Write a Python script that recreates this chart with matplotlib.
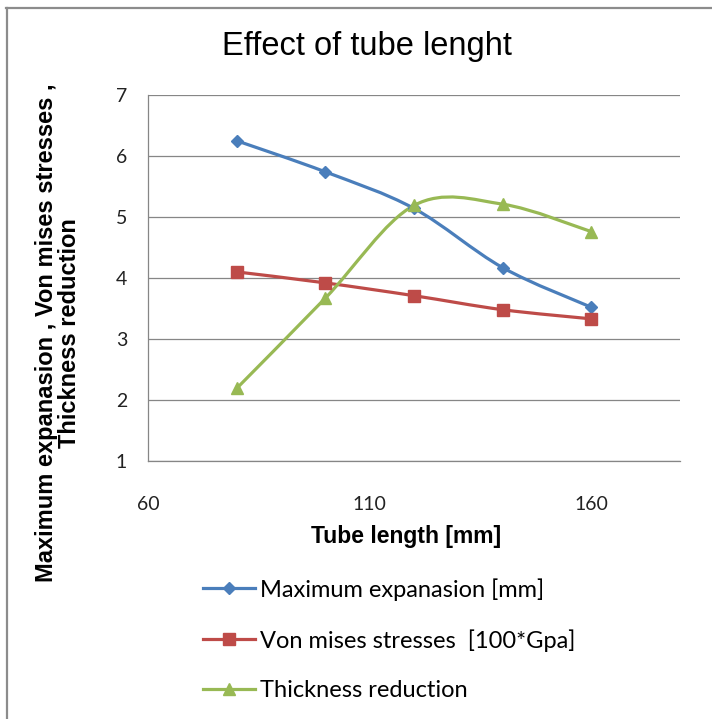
import matplotlib.pyplot as plt
from matplotlib.path import Path
from matplotlib.patches import PathPatch
from matplotlib.lines import Line2D

# Datos
tube_length = [80, 100, 120, 140, 160]
max_expansion = [6.25, 5.74, 5.14, 4.17, 3.52]
von_mises = [4.10, 3.92, 3.71, 3.48, 3.33]
thickness_red = [2.19, 3.67, 5.19, 5.21, 4.76]

labels = ['Maximum expanasion [mm]', 'Von mises stresses  [100*Gpa]', 'Thickness reduction']
colors = ['#4A7EBB', '#BE4B48', '#98B954']
markers = ['D', 's', '^']
msizes = [6, 9, 9]


def smooth_path(x, y):
    # curva suavizada tipo Excel (Bezier por los puntos)
    pts = list(zip(x, y))
    n = len(pts)
    verts = [pts[0]]
    codes = [Path.MOVETO]
    for i in range(n - 1):
        p0 = pts[max(i - 1, 0)]
        p1 = pts[i]
        p2 = pts[i + 1]
        p3 = pts[min(i + 2, n - 1)]
        c1 = (p1[0] + (p2[0] - p0[0]) / 6, p1[1] + (p2[1] - p0[1]) / 6)
        c2 = (p2[0] - (p3[0] - p1[0]) / 6, p2[1] - (p3[1] - p1[1]) / 6)
        verts += [c1, c2, p2]
        codes += [Path.CURVE4] * 3
    return Path(verts, codes)


fig = plt.figure(figsize=(7.12, 7.19), dpi=100)
ax = fig.add_axes([148 / 712, 1 - 461 / 719, 532 / 712, 366 / 719])

series = [max_expansion, von_mises, thickness_red]
handles = []
for ys, lab, c, m, ms in zip(series, labels, colors, markers, msizes):
    ax.add_patch(PathPatch(smooth_path(tube_length, ys), facecolor='none',
                           edgecolor=c, lw=2.3, capstyle='round', zorder=3))
    ax.plot(tube_length, ys, linestyle='none', marker=m, ms=ms, color=c, zorder=4)
    handles.append(Line2D([], [], color=c, lw=2.3, marker=m, ms=ms, label=lab))

ax.set_xlim(60, 180)
ax.set_ylim(1, 7)
ax.set_xticks([60, 110, 160])
ax.set_yticks(range(1, 8))
ax.yaxis.grid(True, color='#868686', lw=0.9)
ax.set_axisbelow(True)
for s in ['top', 'right']:
    ax.spines[s].set_visible(False)
for s in ['left', 'bottom']:
    ax.spines[s].set_color('#868686')
    ax.spines[s].set_linewidth(0.9)
ax.tick_params(axis='y', length=0, pad=15, labelsize=14)
ax.tick_params(axis='x', length=0, pad=25, labelsize=14)
for t in ax.get_xticklabels() + ax.get_yticklabels():
    t.set_fontfamily('Lato')
    t.set_color('#222222')

# Textos
fig.text(367 / 712, 1 - 55 / 719, 'Effect of tube lenght', ha='center', va='baseline',
         fontsize=23.5, family='Liberation Sans')
fig.text(406 / 712, 1 - 537 / 719, 'Tube length [mm]', ha='center', va='center',
         fontsize=16.5, fontweight='bold', family='Liberation Sans')
fig.text(58 / 712, 1 - 333 / 719,
         'Maximum expanasion , Von mises stresses ,\nThickness reduction',
         rotation=90, ha='center', va='center', multialignment='center',
         fontsize=17, fontweight='bold', family='Liberation Sans', linespacing=1.0)

fig.legend(handles=handles, loc='upper left', bbox_to_anchor=(203 / 712, 1 - 578 / 719),
           frameon=False, prop={'family': 'Lato', 'size': 17}, handlelength=2.2,
           handletextpad=0.21, labelspacing=1.2, borderpad=0, borderaxespad=0)

# Borde del gráfico
fig.add_artist(Line2D([6 / 712, 1], [1 - 8 / 719, 1 - 8 / 719], color='#8c8c8c', lw=1.6))
fig.add_artist(Line2D([7 / 712, 7 / 712], [0, 1 - 8 / 719], color='#8c8c8c', lw=1.6))

plt.savefig('out.png', dpi=100)
